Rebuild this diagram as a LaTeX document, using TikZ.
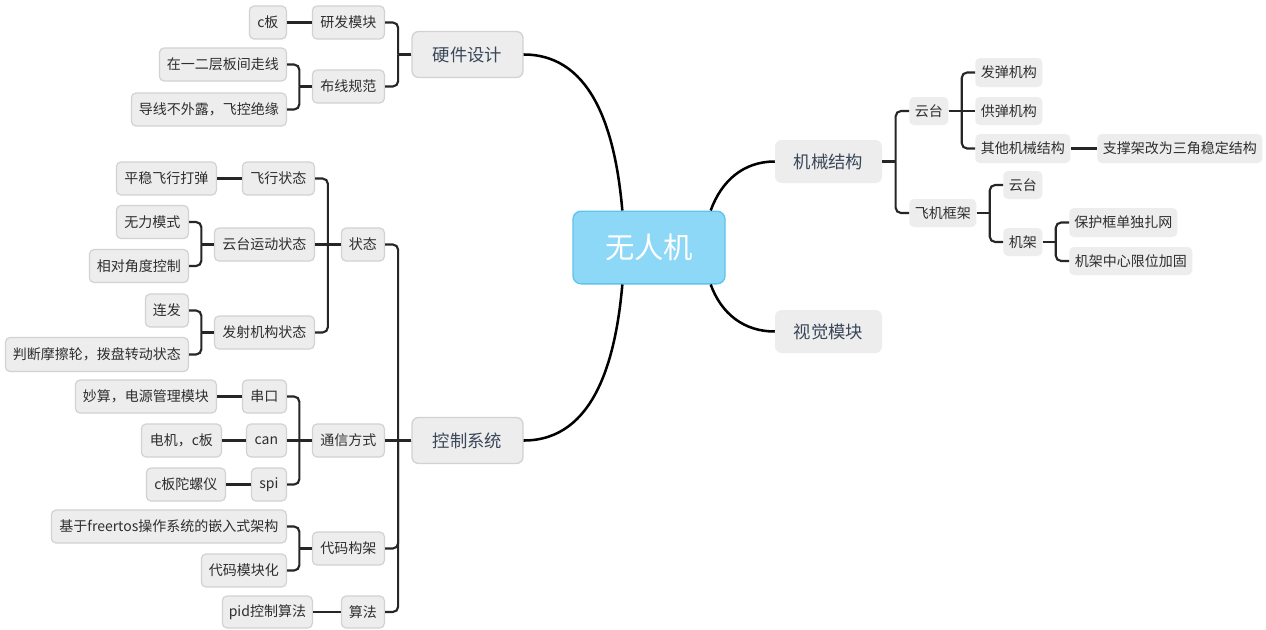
\documentclass[tikz,border=0pt]{standalone}
\usepackage{fontspec}
\setmainfont{Noto Sans CJK SC}
\usetikzlibrary{calc}
\definecolor{boxfill}{HTML}{EDEDED}
\definecolor{boxline}{HTML}{D2D2D2}
\definecolor{txt}{HTML}{2E2E2E}
\definecolor{maintxt}{HTML}{3A4759}
\definecolor{rootfill}{HTML}{8DD8F6}
\definecolor{rootline}{HTML}{5EC4EE}
\definecolor{linecol}{HTML}{262626}
\newcommand{\brL}[2]{%
  \draw[br] (#1.west) -- ($(#1.west)!0.5!(#1.west -| #2.east)$);
  \draw[br] ($(#1.west)!0.5!(#1.west -| #2.east)$) |- (#2.east);}
\newcommand{\brR}[2]{%
  \draw[br] (#1.east) -- ($(#1.east)!0.5!(#1.east -| #2.west)$);
  \draw[br] ($(#1.east)!0.5!(#1.east -| #2.west)$) |- (#2.west);}
\newcommand{\strL}[2]{\draw[br] (#1.west) -- (#2.east);}
\newcommand{\strR}[2]{\draw[br] (#1.east) -- (#2.west);}
\begin{document}
\begin{tikzpicture}[x=0.75pt,y=-0.75pt,
  box/.style args={#1/#2}{minimum width={#1*0.75pt}, minimum height={#2*0.75pt},
     inner sep=0pt, rounded corners=3.5pt, fill=boxfill, text=txt,
     font=\fontsize{10.5}{12}\selectfont},
  leafL/.style={box=#1, draw=boxline, line width=0.9pt},
  leafR/.style={box=#1},
  mainL/.style={box=#1, draw=boxline, line width=1pt, rounded corners=5pt,
     text=maintxt, font=\fontsize{13}{15}\selectfont},
  mainR/.style={box=#1, rounded corners=5pt,
     text=maintxt, font=\fontsize{13}{15}\selectfont},
  rootbox/.style={minimum width=114pt, minimum height=54.5pt, inner sep=0pt,
     fill=rootfill, draw=rootline, line width=1pt, rounded corners=6pt,
     text=white, font=\fontsize{22}{26}\selectfont},
  br/.style={line width=1.6pt, draw=linecol, rounded corners=4pt},
  curve/.style={line width=1.9pt, draw=black}
]
\fill[white] (0,0) rectangle (1266,629);
\useasboundingbox (0,0) rectangle (1266,629);

% root
\node[rootbox] (root) at (649,247.5) {无人机};
\coordinate (rtl) at ($(root.north west)+(50,0)$);
\coordinate (rbl) at ($(root.south west)+(50,0)$);
\coordinate (rtr) at ($(root.north east)+(-15,0)$);
\coordinate (rbr) at ($(root.south east)+(-15,0)$);

% ---------- left: hardware
\node[mainL={111/46}] (hw) at (467.5,54.5) {硬件设计};
\node[leafL={72/33}, anchor=east] (rd) at (385,22.5) {研发模块};
\node[leafL={37/33}, anchor=east] (cb) at (287,22.5) {c板};
\node[leafL={72/33}, anchor=east] (bx) at (385,86.5) {布线规范};
\node[leafL={127/33}, anchor=east] (z1) at (287,64.5) {在一二层板间走线};
\node[leafL={155/33}, anchor=east] (z2) at (287,109.5) {导线不外露，飞控绝缘};

% ---------- left: control
\node[mainL={111/46}] (ctl) at (467.5,440.5) {控制系统};
\node[leafL={43/33}, anchor=east] (st) at (385,244.5) {状态};
\node[leafL={72/33}, anchor=east] (fx) at (315,178.5) {飞行状态};
\node[leafL={100/33}, anchor=east] (pw) at (217,178.5) {平稳飞行打弹};
\node[leafL={100/33}, anchor=east] (ytz) at (315,244.5) {云台运动状态};
\node[leafL={72/33}, anchor=east] (wl) at (189,222) {无力模式};
\node[leafL={99/33}, anchor=east] (xd) at (189,266) {相对角度控制};
\node[leafL={100/33}, anchor=east] (fs) at (315,332.5) {发射机构状态};
\node[leafL={43/33}, anchor=east] (lf) at (189,310.5) {连发};
\node[leafL={183/34}, anchor=east] (pd) at (189,354.5) {判断摩擦轮，拨盘转动状态};
\node[leafL={72/33}, anchor=east] (tx) at (385,440.5) {通信方式};
\node[leafL={44/33}, anchor=east] (ck) at (287,396.5) {串口};
\node[leafL={141/33}, anchor=east] (ms) at (217,396.5) {妙算，电源管理模块};
\node[leafL={40/33}, anchor=east] (can) at (287,440.5) {can};
\node[leafL={80/33}, anchor=east] (dj) at (222,440.5) {电机，c板};
\node[leafL={35/33}, anchor=east] (spi) at (287,484.5) {spi};
\node[leafL={79/33}, anchor=east] (tl) at (226,484.5) {c板陀螺仪};
\node[leafL={72/33}, anchor=east] (dm) at (385,548.5) {代码构架};
\node[leafL={235/33}, anchor=east] (fr) at (287,526.5) {基于freertos操作系统的嵌入式架构};
\node[leafL={85/33}, anchor=east] (mk) at (287,570.5) {代码模块化};
\node[leafL={43/32}, anchor=east] (sf) at (385,612) {算法};
\node[leafL={90/32}, anchor=east] (pid) at (313,612) {pid控制算法};

% ---------- right
\node[mainR={107/43}] (mech) at (828.5,161.5) {机械结构};
\node[mainR={107/43}] (vis) at (828.5,331.5) {视觉模块};
\node[leafR={39/28}, anchor=west] (yt1) at (909,111) {云台};
\node[leafR={67/29}, anchor=west] (fd) at (975,72.5) {发弹机构};
\node[leafR={67/28}, anchor=west] (gd) at (975,111) {供弹机构};
\node[leafR={95/29}, anchor=west] (qt) at (975,148.5) {其他机械结构};
\node[leafR={165/29}, anchor=west] (zc) at (1097,148.5) {支撑架改为三角稳定结构};
\node[leafR={67/28}, anchor=west] (fj) at (909,213) {飞机框架};
\node[leafR={39/28}, anchor=west] (yt2) at (1003,185) {云台};
\node[leafR={39/28}, anchor=west] (jj) at (1003,242) {机架};
\node[leafR={108/29}, anchor=west] (bh) at (1069,222.5) {保护框单独扎网};
\node[leafR={123/28}, anchor=west] (jz) at (1069,261) {机架中心限位加固};

% ---------- curves
\draw[curve] (hw.east) to[out=0,in=95] (rtl);
\draw[curve] (rbl) to[out=-95,in=0] (ctl.east);
\draw[curve] (rtr) to[out=70,in=180] (mech.west);
\draw[curve] (rbr) to[out=-70,in=180] (vis.west);

% ---------- brackets left
\brL{hw}{rd} \brL{hw}{bx}
\strL{rd}{cb}
\brL{bx}{z1} \brL{bx}{z2}
\brL{ctl}{st} \brL{ctl}{dm} \brL{ctl}{sf} \strL{ctl}{tx}
\brL{st}{fx} \brL{st}{fs} \strL{st}{ytz}
\strL{fx}{pw}
\brL{ytz}{wl} \brL{ytz}{xd}
\brL{fs}{lf} \brL{fs}{pd}
\brL{tx}{ck} \brL{tx}{spi} \strL{tx}{can}
\strL{ck}{ms} \strL{can}{dj} \strL{spi}{tl}
\brL{dm}{fr} \brL{dm}{mk}
\strL{sf}{pid}

% ---------- brackets right
\brR{mech}{yt1} \brR{mech}{fj}
\brR{yt1}{fd} \brR{yt1}{qt} \strR{yt1}{gd}
\strR{qt}{zc}
\brR{fj}{yt2} \brR{fj}{jj}
\brR{jj}{bh} \brR{jj}{jz}
\end{tikzpicture}
\end{document}
